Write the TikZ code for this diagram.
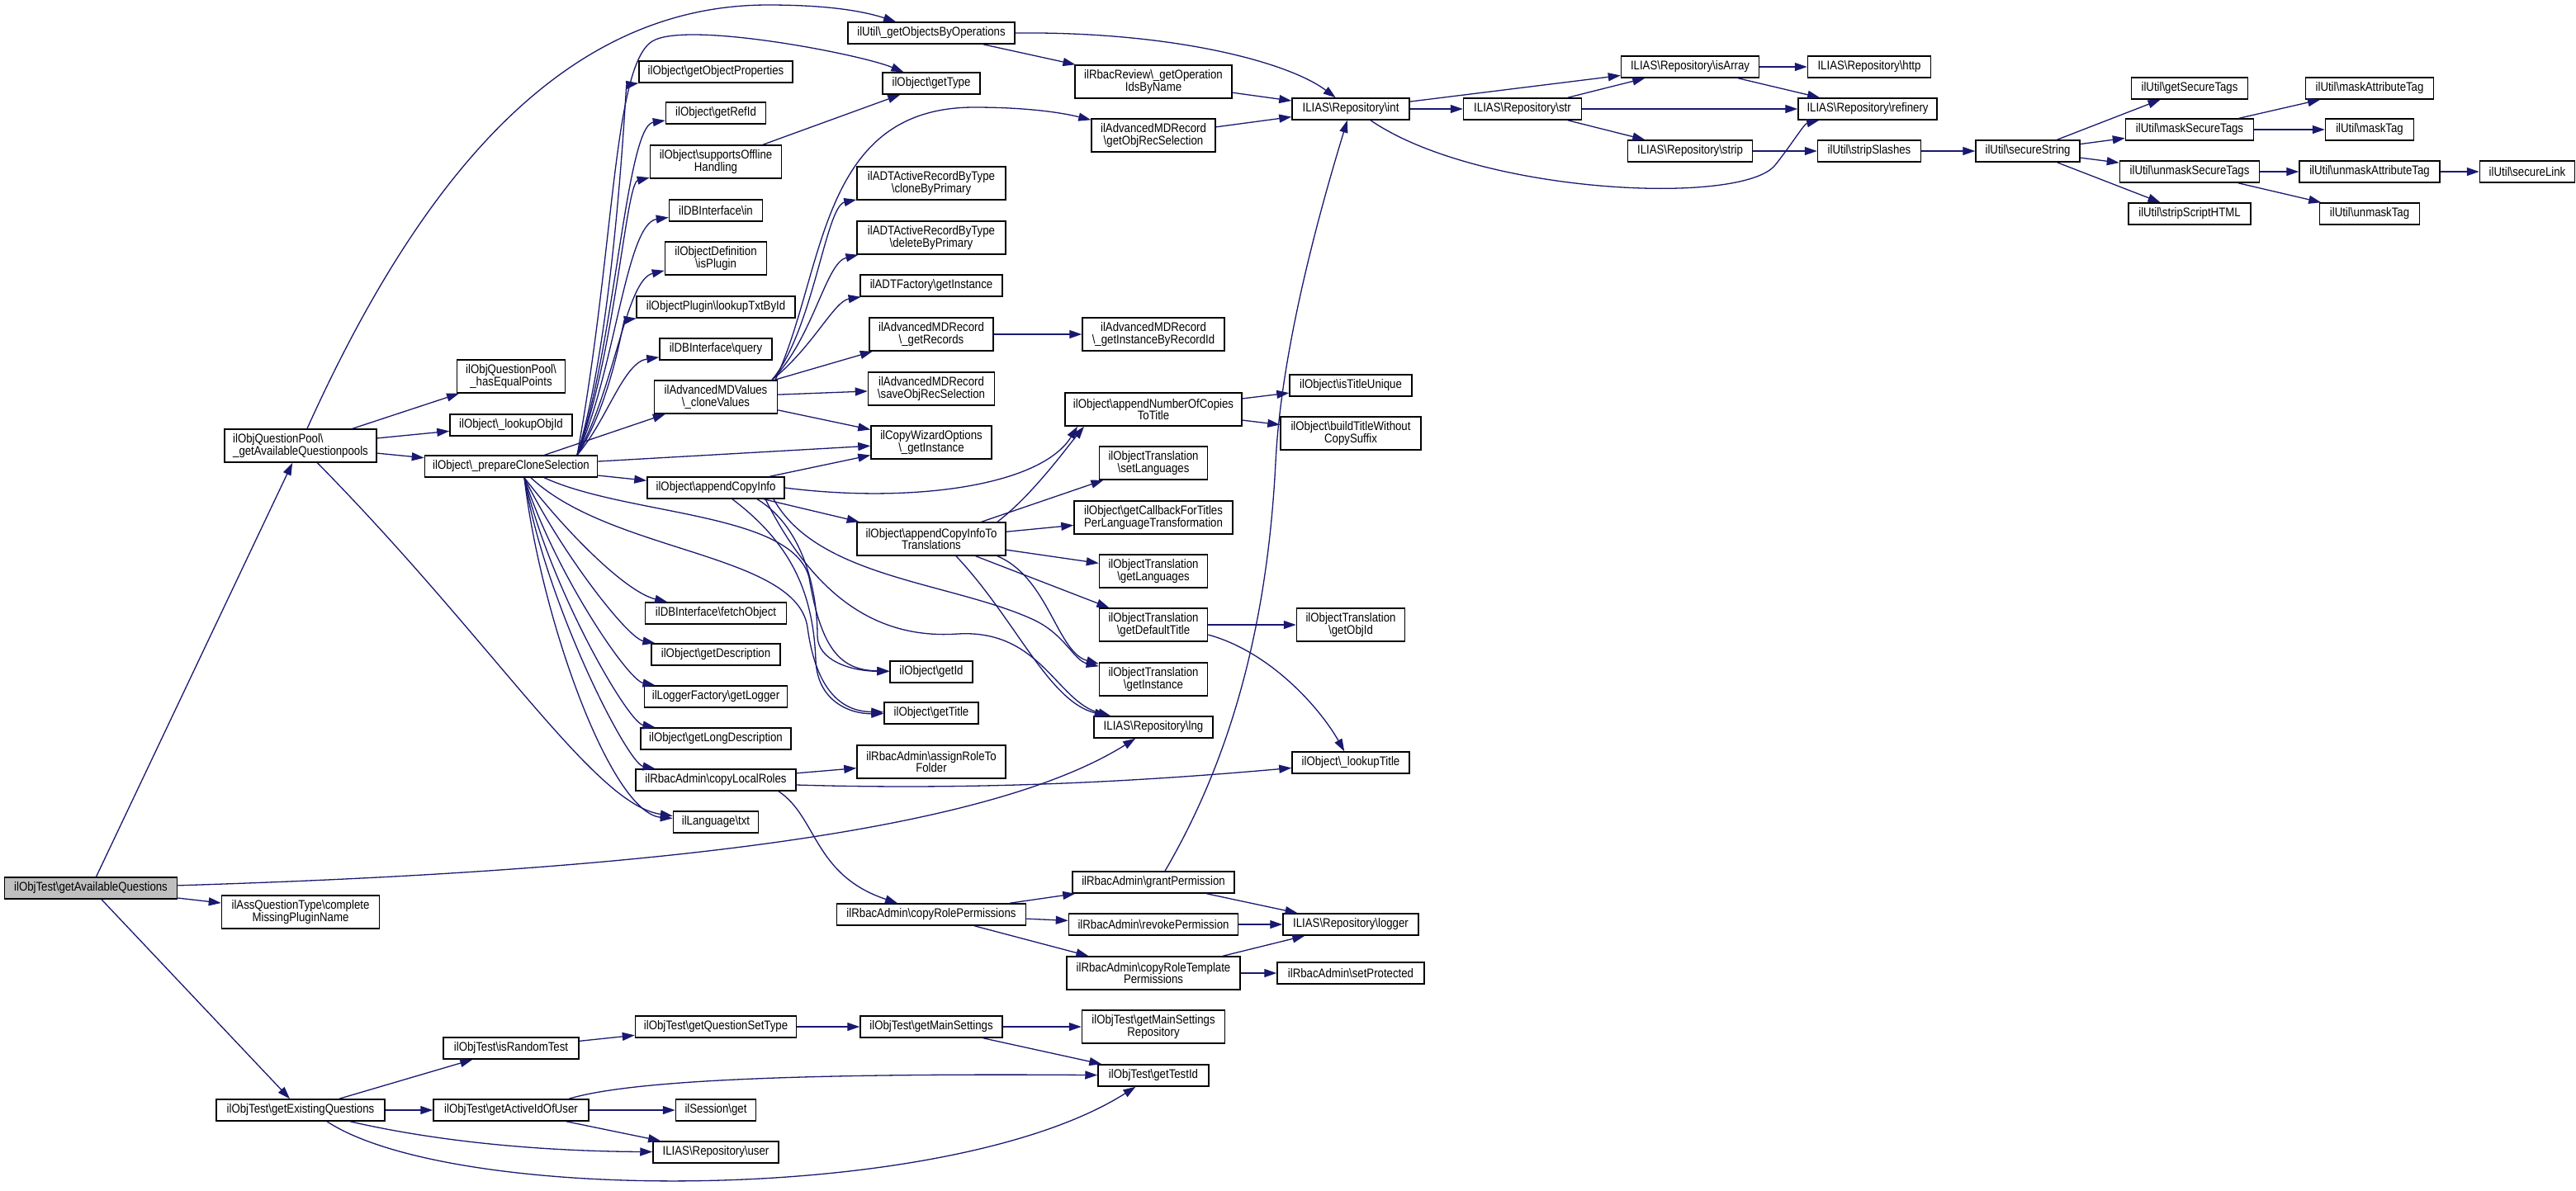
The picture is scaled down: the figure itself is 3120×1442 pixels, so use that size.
\documentclass[tikz,border=0pt]{standalone}
\usepackage{fontspec}
\setmainfont{Liberation Sans}[FakeStretch=0.87]
\usetikzlibrary{arrows.meta}
\definecolor{callblue}{RGB}{25,25,112}
\newcommand{\bsl}{\textbackslash}

\begin{document}
\begin{tikzpicture}
[x=0.5pt,y=-0.5pt,
 fn/.style={draw=black,line width=0.75pt,fill=white,inner sep=0pt,minimum height=13pt,align=center,font=\fontsize{7.6pt}{7.3pt}\selectfont},
 fnn/.style={fn,minimum height=20pt},
 call/.style={color=callblue,line width=0.65pt,-{Triangle[length=7.5pt,width=5pt]}}]

\path[use as bounding box,fill=white] (0,0) rectangle (3120,1442);

% caller and first level
\node[fn,fill=black!25,minimum width=104.5pt] (gaq) at (110,1076) {ilObjTest\bsl getAvailableQuestions};
\node[fnn,align=left,minimum width=92pt] (gaqp) at (364,540) {ilObjQuestionPool\bsl\\\_getAvailableQuestionpools};
\node[fnn,minimum width=95.5pt] (cmpn) at (364,1105) {ilAssQuestionType\bsl complete\\MissingPluginName};
\node[fn,minimum width=102pt] (geq) at (364,1345) {ilObjTest\bsl getExistingQuestions};

\node[fnn,minimum width=65.5pt] (hep) at (619,456) {ilObjQuestionPool\bsl\\\_hasEqualPoints};
\node[fn,minimum width=74pt] (loi) at (619,515) {ilObject\bsl\_lookupObjId};
\node[fn,minimum width=104.5pt] (pcs) at (619,565) {ilObject\bsl\_prepareCloneSelection};
\node[fn,minimum width=82pt] (irt) at (619,1270) {ilObjTest\bsl isRandomTest};
\node[fn,minimum width=94pt] (gaid) at (619,1345) {ilObjTest\bsl getActiveIdOfUser};

% third column
\node[fn,minimum width=93pt] (gop) at (867,87) {ilObject\bsl getObjectProperties};
\node[fn,minimum width=60.5pt] (grid) at (867,137) {ilObject\bsl getRefId};
\node[fnn,minimum width=79.5pt] (sofh) at (867,196) {ilObject\bsl supportsOffline\\Handling};
\node[fn,minimum width=56.5pt] (dbin) at (867,255) {ilDBInterface\bsl in};
\node[fnn,minimum width=61.5pt] (ispl) at (867,313) {ilObjectDefinition\\\bsl isPlugin};
\node[fn,minimum width=96pt] (ltbi) at (867,372) {ilObjectPlugin\bsl lookupTxtById};
\node[fn,minimum width=68pt] (dbq) at (867,423) {ilDBInterface\bsl query};
\node[fnn,minimum width=74.5pt] (cv) at (867,481) {ilAdvancedMDValues\\\bsl\_cloneValues};
\node[fn,minimum width=83pt] (aci) at (867,591) {ilObject\bsl appendCopyInfo};
\node[fn,minimum width=85.5pt] (dbfo) at (867,743) {ilDBInterface\bsl fetchObject};
\node[fn,minimum width=78pt] (gdesc) at (867,793) {ilObject\bsl getDescription};
\node[fn,minimum width=86.5pt] (glog) at (867,844) {ilLoggerFactory\bsl getLogger};
\node[fn,minimum width=91pt] (gldesc) at (867,895) {ilObject\bsl getLongDescription};
\node[fn,minimum width=97pt] (clr) at (867,945) {ilRbacAdmin\bsl copyLocalRoles};
\node[fn,minimum width=51.5pt] (txt) at (867,996) {ilLanguage\bsl txt};
\node[fn,minimum width=97.5pt] (gqst) at (867,1244) {ilObjTest\bsl getQuestionSetType};
\node[fn,minimum width=48.5pt] (sget) at (867,1345) {ilSession\bsl get};
\node[fn,minimum width=76pt] (user) at (867,1396) {ILIAS\bsl Repository\bsl user};

% fourth column
\node[fn,minimum width=101pt] (gobo) at (1128,40) {ilUtil\bsl\_getObjectsByOperations};
\node[fn,minimum width=59pt] (gty) at (1128,101) {ilObject\bsl getType};
\node[fnn,minimum width=90pt] (cbp) at (1128,222) {ilADTActiveRecordByType\\\bsl cloneByPrimary};
\node[fnn,minimum width=90pt] (dbp) at (1128,288) {ilADTActiveRecordByType\\\bsl deleteByPrimary};
\node[fn,minimum width=86pt] (adtf) at (1128,346) {ilADTFactory\bsl getInstance};
\node[fnn,minimum width=75pt] (agr) at (1128,405) {ilAdvancedMDRecord\\\bsl\_getRecords};
\node[fnn,minimum width=76.5pt] (sors) at (1128,471) {ilAdvancedMDRecord\\\bsl saveObjRecSelection};
\node[fnn,minimum width=73pt] (cwo) at (1128,536) {ilCopyWizardOptions\\\bsl\_getInstance};
\node[fnn,minimum width=90pt] (acit) at (1128,653) {ilObject\bsl appendCopyInfoTo\\Translations};
\node[fn,minimum width=50pt] (gid) at (1128,814) {ilObject\bsl getId};
\node[fn,minimum width=57pt] (gti) at (1128,864) {ilObject\bsl getTitle};
\node[fnn,minimum width=90pt] (arf) at (1128,923) {ilRbacAdmin\bsl assignRoleTo\\Folder};
\node[fn,minimum width=114.5pt] (crp) at (1128,1108) {ilRbacAdmin\bsl copyRolePermissions};
\node[fn,minimum width=86pt] (gms) at (1128,1244) {ilObjTest\bsl getMainSettings};

% fifth column
\node[fnn,minimum width=95pt] (goin) at (1397,99) {ilRbacReview\bsl\_getOperation\\IdsByName};
\node[fnn,minimum width=75pt] (gors) at (1397,164) {ilAdvancedMDRecord\\\bsl getObjRecSelection};
\node[fnn,minimum width=86pt] (gibr) at (1397,405) {ilAdvancedMDRecord\\\bsl\_getInstanceByRecordId};
\node[fnn,minimum width=107pt] (anc) at (1397,496) {ilObject\bsl appendNumberOfCopies\\ToTitle};
\node[fnn,minimum width=65.5pt] (osl) at (1397,561) {ilObjectTranslation\\\bsl setLanguages};
\node[fnn,minimum width=96pt] (gcb) at (1397,627) {ilObject\bsl getCallbackForTitles\\PerLanguageTransformation};
\node[fnn,minimum width=65.5pt] (ogl) at (1397,692) {ilObjectTranslation\\\bsl getLanguages};
\node[fnn,minimum width=65.5pt] (gdt) at (1397,757) {ilObjectTranslation\\\bsl getDefaultTitle};
\node[fnn,minimum width=65.5pt] (oti) at (1397,823) {ilObjectTranslation\\\bsl getInstance};
\node[fn,minimum width=72pt] (lng) at (1397,881) {ILIAS\bsl Repository\bsl lng};
\node[fn,minimum width=98pt] (grp) at (1397,1069) {ilRbacAdmin\bsl grantPermission};
\node[fn,minimum width=102.5pt] (rvp) at (1397,1120) {ilRbacAdmin\bsl revokePermission};
\node[fnn,minimum width=105pt] (crt) at (1397,1179) {ilRbacAdmin\bsl copyRoleTemplate\\Permissions};
\node[fnn,minimum width=86.5pt] (gmsr) at (1397,1244) {ilObjTest\bsl getMainSettings\\Repository};
\node[fn,minimum width=67pt] (gtid) at (1397,1303) {ilObjTest\bsl getTestId};

% sixth column
\node[fn,minimum width=71pt] (int) at (1636,132) {ILIAS\bsl Repository\bsl int};
\node[fn,minimum width=74pt] (itu) at (1636,467) {ilObject\bsl isTitleUnique};
\node[fnn,minimum width=85pt] (btw) at (1636,525) {ilObject\bsl buildTitleWithout\\CopySuffix};
\node[fnn,minimum width=65.5pt] (ogoi) at (1636,757) {ilObjectTranslation\\\bsl getObjId};
\node[fn,minimum width=71pt] (lkt) at (1636,924) {ilObject\bsl\_lookupTitle};
\node[fn,minimum width=82pt] (log) at (1636,1120) {ILIAS\bsl Repository\bsl logger};
\node[fn,minimum width=89pt] (spr) at (1636,1179) {ilRbacAdmin\bsl setProtected};

% repository and util chain
\node[fn,minimum width=71.5pt] (str) at (1844,132) {ILIAS\bsl Repository\bsl str};
\node[fn,minimum width=83.5pt] (isa) at (2047,81) {ILIAS\bsl Repository\bsl isArray};
\node[fn,minimum width=75.5pt] (strip) at (2047,183) {ILIAS\bsl Repository\bsl strip};
\node[fn,minimum width=74.5pt] (http) at (2264,81) {ILIAS\bsl Repository\bsl http};
\node[fn,minimum width=84pt] (ref) at (2262,132) {ILIAS\bsl Repository\bsl refinery};
\node[fn,minimum width=62.5pt] (sls) at (2264,183) {ilUtil\bsl stripSlashes};
\node[fn,minimum width=63pt] (ss) at (2456,183) {ilUtil\bsl secureString};
\node[fn,minimum width=70.5pt] (gst) at (2652,107) {ilUtil\bsl getSecureTags};
\node[fn,minimum width=77.5pt] (mst) at (2652,157) {ilUtil\bsl maskSecureTags};
\node[fn,minimum width=84.5pt] (ust) at (2652,208) {ilUtil\bsl unmaskSecureTags};
\node[fn,minimum width=74pt] (ssh) at (2652,259) {ilUtil\bsl stripScriptHTML};
\node[fn,minimum width=77.5pt] (mat) at (2870,107) {ilUtil\bsl maskAttributeTag};
\node[fn,minimum width=53.5pt] (mt) at (2870,157) {ilUtil\bsl maskTag};
\node[fn,minimum width=85pt] (uat) at (2870,208) {ilUtil\bsl unmaskAttributeTag};
\node[fn,minimum width=60.5pt] (ut) at (2870,259) {ilUtil\bsl unmaskTag};
\node[fn,minimum width=57.5pt] (sl) at (3061,208) {ilUtil\bsl secureLink};

\path[call]
  (gaq) edge (gaqp)
  (gaq) edge (cmpn)
  (gaq) edge (geq)
  (gaqp) edge (hep)
  (gaqp) edge (loi)
  (gaqp) edge (pcs)
  (pcs) edge (cv)
  (pcs) edge (aci)
  (pcs) edge (cwo)
  (sofh) edge (gty)
  (gobo) edge (goin)
  (goin) edge (int)
  (gors) edge (int)
  (cv) edge (agr)
  (cv) edge (sors)
  (cv) edge (cwo)
  (agr) edge (gibr)
  (aci) edge (cwo)
  (aci) edge (acit)
  (acit) edge (osl)
  (acit) edge (gcb)
  (acit) edge (ogl)
  (acit) edge (gdt)
  (anc) edge (itu)
  (anc) edge (btw)
  (gdt) edge (ogoi)
  (clr) edge (arf)
  (crp) edge (grp)
  (crp) edge (rvp)
  (crp) edge (crt)
  (grp) edge (log)
  (rvp) edge (log)
  (crt) edge (log)
  (crt) edge (spr)
  (geq) edge (irt)
  (geq) edge (gaid)
  (irt) edge (gqst)
  (gqst) edge (gms)
  (gms) edge (gmsr)
  (gms) edge (gtid)
  (gaid) edge (sget)
  (gaid) edge (user)
  (int) edge (str)
  (int) edge (isa)
  (str) edge (isa)
  (str) edge (ref)
  (str) edge (strip)
  (isa) edge (http)
  (isa) edge (ref)
  (strip) edge (sls)
  (sls) edge (ss)
  (ss) edge (gst)
  (ss) edge (mst)
  (ss) edge (ust)
  (ss) edge (ssh)
  (mst) edge (mat)
  (mst) edge (mt)
  (ust) edge (uat)
  (ust) edge (ut)
  (uat) edge (sl);

% long calls, routed by hand
\draw[call] (gaq) .. controls (800,1055) and (1200,1005) .. (lng);
\draw[call] ([xshift=4pt]gaqp.north) .. controls (507,220) and (680,6) .. (930,6) .. controls (1010,6) and (1050,15) .. (gobo);
\draw[call] (gaqp) .. controls (600,780) and (720,975) .. (txt);

\draw[call] ([xshift=40pt]pcs.north) .. controls (745,300) and (742,80) .. (790,50) .. controls (830,25) and (1040,65) .. (gty);
\draw[call] ([xshift=40pt]pcs.north) .. controls (745,400) and (758,103) .. (gop);
\draw[call] ([xshift=40pt]pcs.north) .. controls (745,420) and (758,153) .. (grid);
\draw[call] ([xshift=40pt]pcs.north) .. controls (745,430) and (758,222) .. (sofh);
\draw[call] ([xshift=40pt]pcs.north) .. controls (745,450) and (758,271) .. (dbin);
\draw[call] ([xshift=40pt]pcs.north) .. controls (745,470) and (758,339) .. (ispl);
\draw[call] ([xshift=40pt]pcs.north) .. controls (740,490) and (755,388) .. (ltbi);
\draw[call] ([xshift=40pt]pcs.north) .. controls (735,510) and (755,439) .. (dbq);

\draw[call] ([xshift=8pt]pcs.south) .. controls (690,650) and (760,718) .. (dbfo);
\draw[call] ([xshift=8pt]pcs.south) .. controls (680,670) and (760,773) .. (gdesc);
\draw[call] ([xshift=8pt]pcs.south) .. controls (670,690) and (760,824) .. (glog);
\draw[call] ([xshift=8pt]pcs.south) .. controls (665,710) and (760,875) .. (gldesc);
\draw[call] ([xshift=8pt]pcs.south) .. controls (660,730) and (760,925) .. (clr);
\draw[call] ([xshift=8pt]pcs.south) .. controls (655,750) and (740,985) .. (txt);
\draw[call] ([xshift=20pt]pcs.south) .. controls (760,625) and (960,620) .. (980,700) .. controls (995,790) and (1020,812) .. (gid);
\draw[call] ([xshift=12pt]pcs.south) .. controls (740,670) and (965,670) .. (978,760) .. controls (990,850) and (1030,862) .. (gti);

\draw[call] ([xshift=34pt]cv.north) .. controls (985,400) and (1000,250) .. (cbp);
\draw[call] ([xshift=34pt]cv.north) .. controls (985,410) and (1000,318) .. (dbp);
\draw[call] ([xshift=34pt]cv.north) .. controls (985,420) and (1010,365) .. (adtf);
\draw[call] ([xshift=36pt]cv.north) .. controls (1000,330) and (990,130) .. (1180,130) .. controls (1260,130) and (1300,140) .. (gors);

\draw[call] ([xshift=25pt]aci.south) .. controls (975,640) and (990,720) .. (990,770) .. controls (990,800) and (1030,813) .. (gid);
\draw[call] ([xshift=10pt]aci.south) .. controls (960,660) and (985,720) .. (988,800) .. controls (990,850) and (1030,865) .. (gti);
\draw[call] ([xshift=35pt]aci.south) .. controls (990,700) and (1150,705) .. (1250,750) .. controls (1290,768) and (1300,800) .. (oti);
\draw[call] ([xshift=30pt]aci.south) .. controls (985,720) and (1060,775) .. (1160,768) .. controls (1260,762) and (1280,850) .. (lng);
\draw[call] (aci.east) .. controls (1100,610) and (1260,590) .. ([xshift=-46pt]anc.south);

\draw[call] ([xshift=40pt]acit.south) .. controls (1270,700) and (1280,790) .. (oti);
\draw[call] ([xshift=15pt]acit.south) .. controls (1230,750) and (1270,850) .. (lng);
\draw[call] ([xshift=40pt]acit.north) .. controls (1250,600) and (1290,545) .. ([xshift=-42pt]anc.south);

\draw[call] ([yshift=-6pt]gdt.east) .. controls (1540,790) and (1600,860) .. (lkt);
\draw[call] ([yshift=-3pt]clr.east) .. controls (1200,958) and (1400,945) .. (lkt);
\draw[call] ([xshift=38pt]clr.south) .. controls (990,990) and (985,1060) .. (crp);
\draw[call] ([xshift=7pt]grp.north) .. controls (1490,920) and (1535,760) .. (1545,560) .. controls (1552,420) and (1600,250) .. (int);

\draw[call] (gobo.east) .. controls (1420,38) and (1560,75) .. (int);
\draw[call] ([xshift=12pt]int.south) .. controls (1790,235) and (2110,250) .. (2150,200) .. controls (2170,175) and (2185,150) .. (ref);

\draw[call] ([xshift=35pt]gaid.north) .. controls (760,1310) and (950,1300) .. (gtid);
\draw[call] ([xshift=30pt]geq.south) .. controls (560,1390) and (700,1395) .. (user);
\draw[call] ([xshift=16pt]geq.south) .. controls (550,1460) and (1150,1460) .. (gtid);

\end{tikzpicture}
\end{document}
